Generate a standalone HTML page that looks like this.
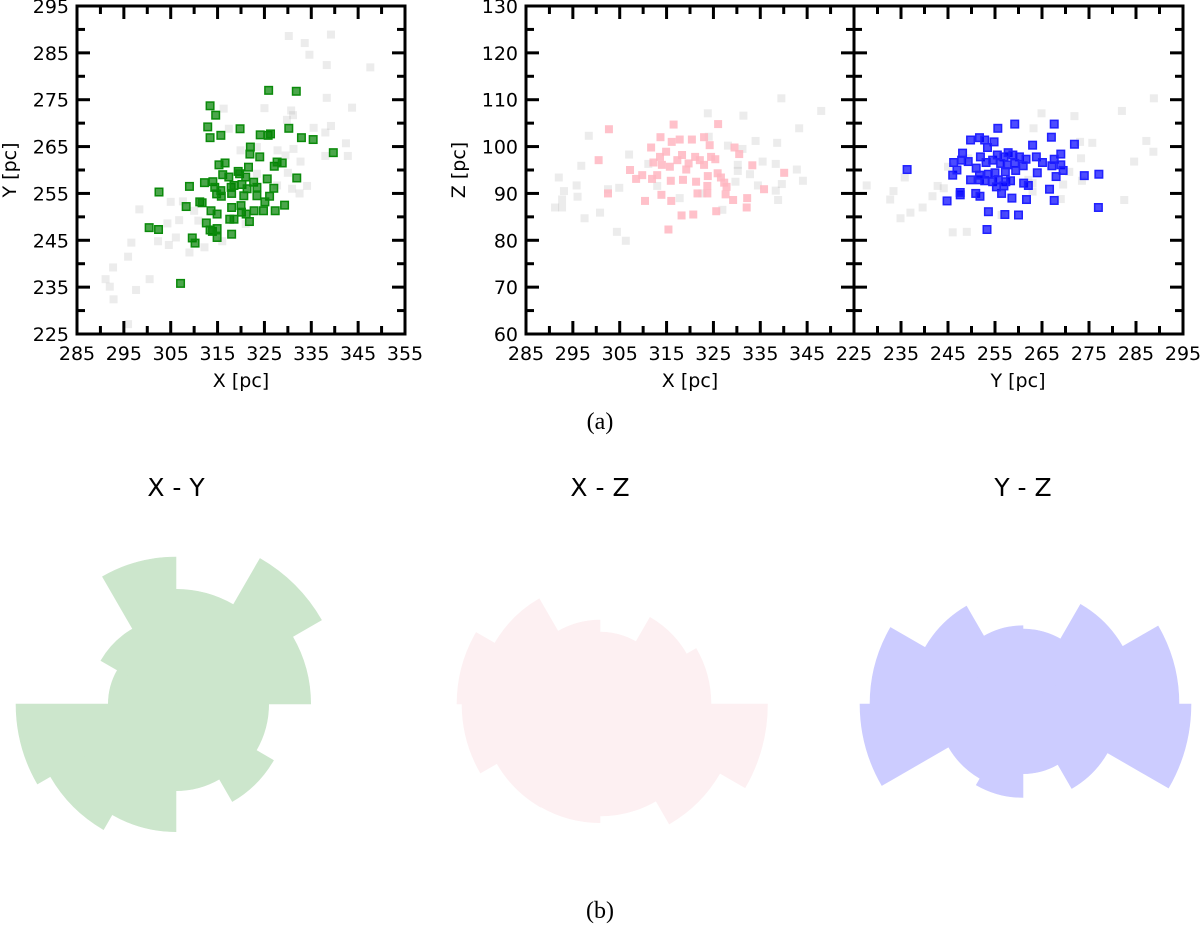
<!DOCTYPE html>
<html><head><meta charset="utf-8"><style>
html,body{margin:0;padding:0;background:#fff;}
svg{display:block;}
text{font-family:"DejaVu Sans","Liberation Sans",sans-serif;fill:#000;}
</style></head><body>
<svg id="fig" width="1200" height="930" viewBox="0 0 1200 930" xmlns="http://www.w3.org/2000/svg">
<text x="600" y="429" text-anchor="middle" style="font-family:'Liberation Serif',serif;font-size:24px">(a)</text>
<text x="600" y="918" text-anchor="middle" style="font-family:'Liberation Serif',serif;font-size:24px">(b)</text>
</svg>
<script>
// ---------- Panel data ----------
const xyGreenX=[325.9,331.8,313.4,314.6,312.9,313.4,315.7,319.8,324.1,325.8,326.3,330.2,332.9,335.4,339.7,322.0,321.9,324.0,315.3,316.6,316.1,317.4,319.4,319.7,321.6,327.1,327.7,328.8,331.9,325.6,312.2,314.0,309.0,314.4,315.7,317.9,318.5,320.2,321.0,321.3,322.7,323.4,323.4,327.0,326.1,325.1,302.5,311.2,311.7,314.8,315.8,318.0,320.6,308.3,313.6,314.9,318.0,320.0,320.1,321.1,322.8,324.8,327.3,329.3,312.6,317.6,318.5,321.8,313.4,313.9,314.9,318.0,314.9,300.4,302.4,309.6,310.2,307.1];
const xyGreenY=[277.0,276.8,273.7,271.7,269.2,266.9,267.4,268.8,267.5,267.4,267.7,268.9,266.9,266.5,263.7,264.9,263.4,262.8,261.1,261.5,259.0,258.5,259.7,259.2,260.6,260.8,261.7,261.5,258.3,258.1,257.3,257.5,256.5,256.3,255.6,256.3,256.7,256.9,258.5,256.0,257.4,256.3,254.5,256.1,254.4,253.2,255.3,253.2,253.0,254.9,254.4,255.0,254.5,252.2,251.3,250.6,252.0,252.4,251.0,250.6,251.3,251.3,251.3,252.5,248.7,249.5,249.5,249.0,247.2,246.9,247.5,246.3,245.6,247.7,247.3,245.5,244.4,235.8];
const xyGrayX=[330.2,339.2,333.6,334.6,338.3,347.6,338.3,343.7,325.0,316.3,330.7,331.1,329.8,317.4,335.5,339.2,338.0,342.4,342.8,338.0,327.8,323.4,319.9,331.2,332.7,329.5,330.0,330.9,332.5,334.1,327.7,305.0,307.6,298.3,310.0,306.8,304.3,310.9,306.1,302.3,304.6,296.6,312.2,309.0,316.0,295.9,292.7,291.1,292.0,292.8,297.6,300.5,295.9,321.0,323.4];
const xyGrayY=[288.6,288.9,287.1,284.6,282.4,281.9,275.4,273.3,273.2,273.1,272.7,271.7,270.7,268.8,269.0,269.4,268.0,265.7,263.0,263.0,264.2,264.9,264.2,264.5,261.8,263.1,259.4,256.0,255.0,256.6,256.7,253.2,253.3,251.6,251.3,249.3,248.6,249.2,245.6,244.8,244.0,244.5,243.5,242.4,244.8,241.5,239.2,236.7,235.1,232.4,234.4,236.7,227.1,248.5,259.2];
const xzPinkX=[302.7,316.5,326.0,300.5,302.5,313.7,311.7,316.1,317.8,320.4,323.0,324.2,329.5,330.5,307.2,308.5,309.8,311.9,312.2,313.6,314.9,314.0,315.7,317.3,318.3,319.7,321.1,322.1,323.0,324.5,325.4,318.5,315.9,321.3,323.8,325.9,326.6,327.3,327.8,323.7,321.6,323.7,327.6,329.2,332.2,335.8,340.1,333.3,310.4,313.9,316.0,318.2,320.7,325.6,332.1,315.4,319.2,313.0];
const xzPinkZ=[103.7,104.7,104.8,97.1,90.0,102.0,99.8,101.0,101.5,101.5,102.0,100.3,99.8,98.4,95.0,93.1,93.9,93.1,96.6,97.8,98.9,96.1,95.7,97.1,98.2,96.4,97.8,97.1,96.1,97.8,97.3,92.9,92.7,92.5,93.7,94.3,93.4,92.3,91.4,91.6,90.0,90.0,89.8,88.6,89.0,90.9,94.4,96.0,88.4,89.7,88.4,85.3,85.5,86.2,87.0,82.3,95.1,93.9];
const xzGrayX=[339.5,348.0,323.8,331.4,343.3,298.4,324.0,334.0,338.6,328.1,331.2,307.0,296.8,311.1,335.5,330.2,330.2,342.8,338.3,292.0,344.1,332.8,329.7,295.8,304.9,293.1,302.5,334.5,339.6,338.3,296.0,292.7,338.8,317.8,291.2,292.7,300.8,297.5,326.9,304.4,306.3,313.0,322.6];
const xzGrayZ=[110.3,107.6,107.1,106.6,103.9,102.3,102.1,101.2,100.8,100.2,99.5,98.3,95.9,96.3,96.8,96.1,94.8,95.1,96.3,93.4,92.7,94.1,92.5,91.7,91.2,90.5,90.9,91.7,92.0,90.6,89.3,88.7,88.6,89.0,87.0,87.0,85.9,84.7,86.5,81.8,79.9,91.6,90.0];
const yzBlueY=[236.3,244.8,247.6,247.6,246.0,246.9,246.2,248.1,247.9,249.3,249.8,251.7,252.8,254.8,253.4,255.6,259.2,267.6,267.0,271.9,263.0,269.0,267.6,263.8,265.1,267.1,269.0,269.5,268.0,264.0,266.6,267.6,274.0,277.1,277.0,261.7,258.6,253.6,257.1,260.0,253.3,250.9,251.8,249.8,251.7,252.8,254.5,255.7,257.3,258.3,261.1,262.1,256.4,255.3,256.9,251.0,251.9,253.1,254.5,255.5,256.9,257.8,258.8,260.2,261.6,261.0,259.4,257.2,255.0,253.6,257.6,259.2,256.2,251.7];
const yzBlueZ=[95.1,88.4,89.7,90.2,93.9,95.0,96.6,98.6,97.1,96.8,101.4,101.9,101.4,101.0,99.8,103.9,104.8,104.8,102.0,100.5,100.3,98.4,97.3,97.8,96.6,95.9,96.1,94.9,93.6,94.4,90.9,88.5,93.8,94.1,87.0,88.7,89.0,86.1,85.5,85.4,82.3,90.0,89.4,92.9,92.9,92.7,92.5,92.9,92.5,92.7,92.2,91.7,90.0,91.4,91.6,95.4,97.8,96.6,97.1,98.2,97.8,98.7,98.2,97.8,97.3,95.9,94.9,94.6,94.4,94.1,96.1,96.4,96.4,93.9];
const yzGrayY=[288.8,282.0,271.9,264.9,263.2,287.2,275.7,273.1,288.7,273.3,284.6,270.8,269.5,273.5,282.5,269.0,263.0,263.0,262.1,227.7,233.4,232.7,234.9,237.0,239.6,241.7,244.1,242.8,245.0,249.3,246.0,249.0,235.8,256.4];
const yzGrayZ=[110.3,107.6,106.5,107.1,103.9,101.2,100.8,101.0,98.9,97.5,96.8,94.6,91.9,92.7,88.6,88.8,90.4,92.2,92.9,91.7,90.5,88.7,84.7,85.9,87.0,89.4,91.1,91.6,95.7,97.5,81.7,81.8,93.4,85.4];
// rose diagrams: 12 sectors of 30 deg, counter-clockwise from east
const roseXY=[134.7,168,114.7,147,86.7,67.7,160,145,127.7,86.7,112.6,92.7];
const roseXZ=[111,100,72,84,121.5,143,138,119,118.7,112,138.5,167.5];
const roseYZ=[156,115,75,78.3,113,153,163,86,93.5,69.7,97.5,168];
const xTicks=[285,295,305,315,325,335,345,355];
const xTicksXZ=[285,295,305,315,325,335,345];
const yTicksXY=[225,235,245,255,265,275,285,295];
const zTicks=[60,70,80,90,100,110,120,130];
const yTicksYZ=[225,235,245,255,265,275,285,295];

const NS="http://www.w3.org/2000/svg";
const svg=document.getElementById('fig');
function mk(tag,attrs,parent){const e=document.createElementNS(NS,tag);for(const k in attrs)e.setAttribute(k,attrs[k]);(parent||svg).appendChild(e);return e;}
function scale(d0,d1,p0,p1){return v=>p0+(v-d0)*(p1-p0)/(d1-d0);}

function axes(name,L,R,T,B,xs,ys,xt,yt,xmin,xmax,ymin,ymax,showY){
  const g=mk('g',{});
  
  
  for(let v=xmin;v<=xmax+0.01;v+=5){
    const major=((v-xmin)%10)===0;const len=major?13:8;const x=xs(v);
    const t1=mk('line',{x1:x,y1:B,x2:x,y2:B-len,stroke:'#000','stroke-width':3},g);
    
    
    const t2=mk('line',{x1:x,y1:T,x2:x,y2:T+len,stroke:'#000','stroke-width':3},g);
    
    
  }
  for(let v=ymin;v<=ymax+0.01;v+=5){
    const major=((v-ymin)%10)===0;const len=major?13:8;const y=ys(v);
    const t1=mk('line',{x1:L,y1:y,x2:L+len,y2:y,stroke:'#000','stroke-width':3},g);
    
    
    const t2=mk('line',{x1:R,y1:y,x2:R-len,y2:y,stroke:'#000','stroke-width':3},g);
    
    
  }
  xt.forEach(v=>{const t=mk('text',{x:xs(v),y:B+26,'text-anchor':'middle','font-size':19},g);t.textContent=v;
    
    });
  if(showY) yt.forEach(v=>{const t=mk('text',{x:L-8,y:ys(v)+7,'text-anchor':'end','font-size':19},g);t.textContent=v;
    
    });
  const f=mk('rect',{x:L,y:T,width:R-L,height:B-T,fill:'none',stroke:'#000','stroke-width':3},g);
  
  
}
function scatter(name,xa,ya,xs,ys,fill,stroke,sz){
  const g=mk('g',{});
  
  
  xa.forEach((v,i)=>{const px=xs(v),py=ys(ya[i]);
    const r=mk('rect',{x:px-sz/2,y:py-sz/2,width:sz,height:sz,fill:fill,stroke:stroke,'stroke-width':stroke==='none'?0:1.5},g);
    
    });
}
// Panel 1
const L1=77,R1=405,T1=6,B1=334;
const sx1=scale(285,355,L1,R1), sy1=scale(225,295,B1,T1);
scatter('xy-background-stars',xyGrayX,xyGrayY,sx1,sy1,'rgba(170,170,170,0.22)','none',8);
scatter('xy-members',xyGreenX,xyGreenY,sx1,sy1,'rgba(0,128,0,0.7)','#0a8a0a',7.5);
axes('xy',L1,R1,T1,B1,sx1,sy1,xTicks,yTicksXY,285,355,225,295,true);
// Panel 2
const L2=526,R2=854,T2=6,B2=334;
const sx2=scale(285,355,L2,R2), sz=scale(60,130,B2,T2);
scatter('xz-background-stars',xzGrayX,xzGrayZ,sx2,sz,'rgba(170,170,170,0.22)','none',8);
scatter('xz-members',xzPinkX,xzPinkZ,sx2,sz,'rgba(255,182,193,0.85)','none',8);
axes('xz',L2,R2,T2,B2,sx2,sz,xTicksXZ,zTicks,285,355,60,130,true);
// Panel 3
const L3=854,R3=1183;
const sy3=scale(225,295,L3,R3);
scatter('yz-background-stars',yzGrayY,yzGrayZ,sy3,sz,'rgba(170,170,170,0.22)','none',8);
scatter('yz-members',yzBlueY,yzBlueZ,sy3,sz,'rgba(0,0,255,0.7)','#2020ff',7.5);
axes('yz',L3,R3,T2,B2,sy3,sz,yTicksYZ,zTicks,225,295,60,130,false);
// axis titles
[['x-axis-title-xy',241,387,'X [pc]'],['x-axis-title-xz',690,387,'X [pc]'],['x-axis-title-yz',1018,387,'Y [pc]']].forEach(a=>{
  const t=mk('text',{x:a[1],y:a[2],'text-anchor':'middle','font-size':19});t.textContent=a[3];
  
  });
[['y-axis-title-xy',16,170,'Y [pc]'],['y-axis-title-xz',465,170,'Z [pc]']].forEach(a=>{
  const t=mk('text',{x:a[1],y:a[2],'text-anchor':'middle','font-size':19,transform:`rotate(-90 ${a[1]} ${a[2]})`});t.textContent=a[3];
  
  });
// rose diagrams
function rose(name,vals,cx,cy,fill,title){
  const g=mk('g',{});
  
  
  vals.forEach((r,i)=>{
    const a0=i*Math.PI/6,a1=(i+1)*Math.PI/6;
    const x0=cx+r*Math.cos(a0),y0=cy-r*Math.sin(a0),x1=cx+r*Math.cos(a1),y1=cy-r*Math.sin(a1);
    const p=mk('path',{d:`M${cx},${cy}L${x0},${y0}A${r},${r} 0 0 0 ${x1},${y1}Z`,fill:fill,stroke:fill,'stroke-width':0.6},g);
    
    
  });
  const t=mk('text',{x:cx,y:496,'text-anchor':'middle','font-size':25});t.textContent=title;
  
  
}
rose('rose-xy',roseXY,176,704,'#cce6cc','X - Y');
rose('rose-xz',roseXZ,600,704,'#fdf0f2','X - Z');
rose('rose-yz',roseYZ,1023,704,'#ccccff','Y - Z');
</script>
</body></html>
